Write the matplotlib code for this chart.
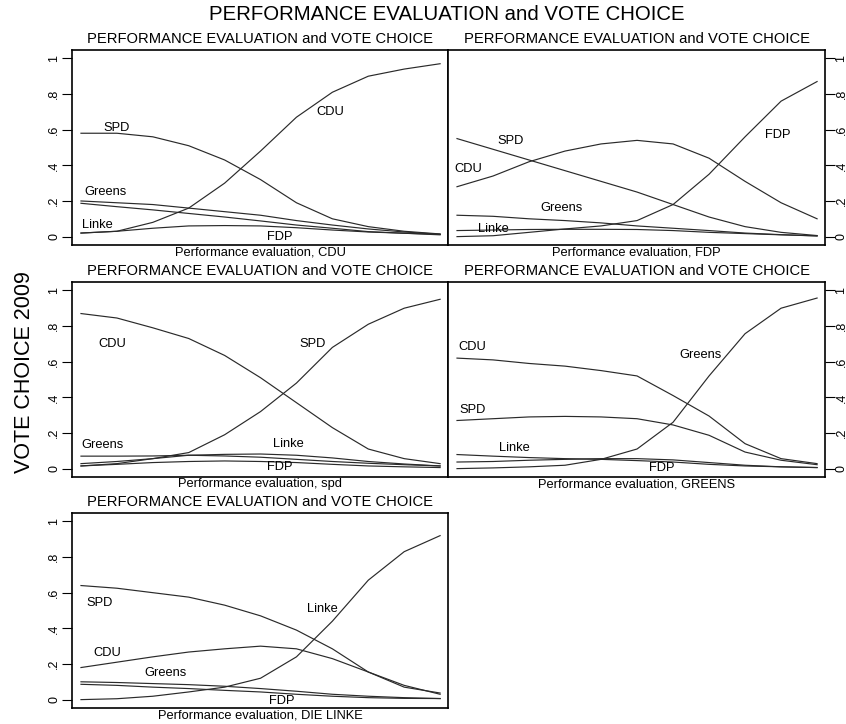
import numpy as np
import matplotlib
matplotlib.use("Agg")
import matplotlib.pyplot as plt

plt.rcParams['font.family'] = ['Liberation Sans', 'DejaVu Sans']

# evaluation scale, 11 points
x = np.arange(11)
yticks = [0, 0.2, 0.4, 0.6, 0.8, 1.0]
ytick_labels = ["0", ".2", ".4", ".6", ".8", "1"]

# predicted probabilities, panel 1: evaluation of CDU
cdu_cdu = [0.02, 0.03, 0.08, 0.16, 0.30, 0.48, 0.67, 0.81, 0.90, 0.94, 0.97]
cdu_spd = [0.58, 0.58, 0.56, 0.51, 0.43, 0.32, 0.19, 0.10, 0.056, 0.03, 0.015]
cdu_greens = [0.20, 0.19, 0.18, 0.16, 0.14, 0.12, 0.09, 0.065, 0.043, 0.026, 0.013]
cdu_linke = [0.187, 0.168, 0.15, 0.13, 0.11, 0.088, 0.065, 0.047, 0.028, 0.019, 0.01]
cdu_fdp = [0.02, 0.03, 0.047, 0.06, 0.062, 0.06, 0.05, 0.037, 0.026, 0.019, 0.013]

# panel 2: evaluation of FDP
fdp_cdu = [0.28, 0.34, 0.42, 0.48, 0.52, 0.54, 0.52, 0.44, 0.31, 0.19, 0.10]
fdp_spd = [0.55, 0.49, 0.43, 0.37, 0.31, 0.25, 0.18, 0.11, 0.056, 0.024, 0.006]
fdp_fdp = [0.0, 0.005, 0.024, 0.043, 0.06, 0.09, 0.18, 0.35, 0.56, 0.76, 0.87]
fdp_greens = [0.12, 0.114, 0.10, 0.09, 0.077, 0.06, 0.047, 0.034, 0.02, 0.011, 0.004]
fdp_linke = [0.034, 0.037, 0.04, 0.041, 0.041, 0.04, 0.034, 0.024, 0.017, 0.01, 0.004]

# panel 3: evaluation of SPD
spd_cdu = [0.87, 0.845, 0.79, 0.73, 0.635, 0.51, 0.37, 0.23, 0.11, 0.056, 0.028]
spd_spd = [0.015, 0.028, 0.056, 0.09, 0.19, 0.32, 0.48, 0.68, 0.81, 0.90, 0.95]
spd_greens = [0.07, 0.07, 0.071, 0.075, 0.071, 0.064, 0.052, 0.04, 0.03, 0.022, 0.015]
spd_linke = [0.028, 0.04, 0.056, 0.075, 0.08, 0.082, 0.075, 0.06, 0.04, 0.026, 0.015]
spd_fdp = [0.015, 0.024, 0.034, 0.04, 0.043, 0.04, 0.034, 0.024, 0.015, 0.01, 0.006]

# panel 4: evaluation of Greens
gr_cdu = [0.62, 0.61, 0.59, 0.575, 0.55, 0.52, 0.41, 0.295, 0.14, 0.056, 0.028]
gr_spd = [0.27, 0.28, 0.29, 0.293, 0.29, 0.28, 0.245, 0.187, 0.093, 0.047, 0.022]
gr_greens = [0.0, 0.004, 0.01, 0.019, 0.052, 0.11, 0.26, 0.52, 0.757, 0.90, 0.957]
gr_linke = [0.079, 0.07, 0.062, 0.056, 0.052, 0.045, 0.037, 0.024, 0.015, 0.01, 0.006]
gr_fdp = [0.037, 0.04, 0.047, 0.052, 0.056, 0.056, 0.049, 0.034, 0.019, 0.01, 0.006]

# panel 5: evaluation of Die Linke
li_spd = [0.64, 0.625, 0.60, 0.575, 0.53, 0.47, 0.39, 0.285, 0.155, 0.07, 0.037]
li_cdu = [0.18, 0.21, 0.24, 0.267, 0.285, 0.30, 0.285, 0.23, 0.155, 0.08, 0.03]
li_linke = [0.0, 0.005, 0.019, 0.043, 0.07, 0.12, 0.24, 0.44, 0.67, 0.83, 0.92]
li_greens = [0.10, 0.096, 0.09, 0.084, 0.075, 0.062, 0.047, 0.03, 0.019, 0.011, 0.006]
li_fdp = [0.086, 0.08, 0.07, 0.062, 0.052, 0.043, 0.03, 0.019, 0.011, 0.007, 0.006]

panels = [
    dict(rect=(72, 50, 448, 245), side="left", xlabel="Performance evaluation, CDU",
         series=[cdu_cdu, cdu_spd, cdu_greens, cdu_linke, cdu_fdp],
         labels=[("CDU", 6.94, 0.70), ("SPD", 1.0, 0.61), ("Greens", 0.67, 0.25),
                 ("Linke", 0.45, 0.065), ("FDP", 5.54, 0.0)]),
    dict(rect=(448, 50, 825, 245), side="right", xlabel="Performance evaluation, FDP",
         series=[fdp_cdu, fdp_spd, fdp_fdp, fdp_greens, fdp_linke],
         labels=[("SPD", 1.48, 0.536), ("CDU", 0.31, 0.38), ("Greens", 2.9, 0.16),
                 ("Linke", 1.0, 0.04), ("FDP", 8.9, 0.57)]),
    dict(rect=(72, 282, 448, 477), side="left", xlabel="Performance evaluation, spd",
         series=[spd_cdu, spd_spd, spd_greens, spd_linke, spd_fdp],
         labels=[("CDU", 0.86, 0.697), ("SPD", 6.46, 0.697), ("Greens", 0.61, 0.13),
                 ("Linke", 5.77, 0.136), ("FDP", 5.54, 0.007)]),
    dict(rect=(448, 282, 825, 477), side="right", xlabel="Performance evaluation, GREENS",
         series=[gr_cdu, gr_spd, gr_greens, gr_linke, gr_fdp],
         labels=[("CDU", 0.43, 0.68), ("SPD", 0.43, 0.327), ("Linke", 1.6, 0.114),
                 ("Greens", 6.76, 0.637), ("FDP", 5.7, 0.002)]),
    dict(rect=(72, 513, 448, 708), side="left", xlabel="Performance evaluation, DIE LINKE",
         series=[li_spd, li_cdu, li_linke, li_greens, li_fdp],
         labels=[("SPD", 0.53, 0.544), ("CDU", 0.72, 0.26), ("Greens", 2.34, 0.148),
                 ("Linke", 6.71, 0.51), ("FDP", 5.6, -0.01)]),
]

W, H = 846, 724
fig = plt.figure(figsize=(W / 100, H / 100), dpi=100)

for p in panels:
    x0, y0, x1, y1 = p["rect"]
    ax = fig.add_axes([x0 / W, 1 - y1 / H, (x1 - x0) / W, (y1 - y0) / H])
    for s in p["series"]:
        ax.plot(x, s, color="#2a2a2a", lw=0.85)
    for txt, tx, ty in p["labels"]:
        ax.text(tx, ty, txt, fontsize=9.3, ha="center", va="center")
    ax.set_xlim(-0.25, 10.22)
    ax.set_ylim(-0.047, 1.047)
    ax.set_xticks([])
    ax.set_yticks(yticks)
    ax.set_yticklabels(ytick_labels, rotation=90, va="center", fontsize=9)
    if p["side"] == "right":
        ax.yaxis.tick_right()
        ax.tick_params(axis="y", length=7, width=0.8, pad=0.5)
    else:
        ax.tick_params(axis="y", length=7, width=0.8, pad=1.5)
    for sp in ax.spines.values():
        sp.set_linewidth(1.2)
    ax.set_title("PERFORMANCE EVALUATION and VOTE CHOICE", fontsize=10.6, pad=5)
    ax.set_xlabel(p["xlabel"], fontsize=9.3, labelpad=1)

fig.text(447 / W, 1 - 15 / H, "PERFORMANCE EVALUATION and VOTE CHOICE",
         fontsize=14.7, ha="center", va="center")
fig.text(25 / W, 1 - 372 / H, "VOTE CHOICE 2009", fontsize=15.5,
         rotation=90, ha="center", va="center")

fig.savefig("out.png", dpi=100, facecolor="white")
